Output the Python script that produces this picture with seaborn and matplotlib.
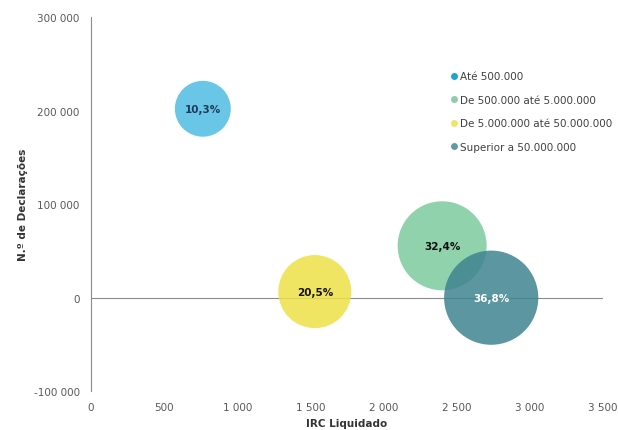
import pandas as pd
import seaborn as sns
import matplotlib.pyplot as plt
from matplotlib.lines import Line2D

# Dados do gráfico
escaloes = ['Até 500.000', 'De 500.000 até 5.000.000',
            'De 5.000.000 até 50.000.000', 'Superior a 50.000.000']
irc_liquidado = [765, 2400, 1530, 2735]
n_declaracoes = [202000, 55500, 6500, 0]
percentagem = [10.3, 32.4, 20.5, 36.8]
rotulos = ['10,3%', '32,4%', '20,5%', '36,8%']
cores = ['#4FBCE2', '#7CCB9E', '#EEE048', '#3F8490']
cores_legenda = ['#1FA3D1', '#8CCCA8', '#EDE56A', '#5E9AA3']
cores_rotulo = ['#1F3A5A', '#111111', '#111111', '#FFFFFF']

df = pd.DataFrame({'escalao': escaloes, 'irc': irc_liquidado,
                   'decl': n_declaracoes, 'pct': percentagem})

sns.set_style('white')
plt.rcParams['font.family'] = ['DejaVu Sans']

fig = plt.figure(figsize=(6.18, 4.31), dpi=100)
ax = fig.add_axes([0.147, 0.09, 0.829, 0.868])

sns.scatterplot(data=df, x='irc', y='decl', hue='escalao', palette=cores,
                size='pct', sizes=(1620, 4600), alpha=0.85, linewidth=0,
                legend=False, ax=ax)

for x, y, t, c in zip(irc_liquidado, n_declaracoes, rotulos, cores_rotulo):
    ax.text(x, y, t, ha='center', va='center', fontsize=7.5,
            fontweight='bold', color=c)

ax.set_xlim(0, 3500)
ax.set_ylim(-100000, 300000)
ax.set_xticks(range(0, 3501, 500))
ax.set_yticks(range(-100000, 300001, 100000))
ax.set_xticklabels([f'{v:,}'.replace(',', ' ') for v in range(0, 3501, 500)])
ax.set_yticklabels([f'{v:,}'.replace(',', ' ') for v in range(-100000, 300001, 100000)])
ax.tick_params(labelsize=7.5, colors='#595959', length=0, pad=8)

for s in ['top', 'right', 'bottom']:
    ax.spines[s].set_visible(False)
ax.spines['left'].set_color('#8C8C8C')
ax.spines['left'].set_linewidth(0.8)
ax.axhline(0, color='#8C8C8C', lw=0.8, zorder=0)

ax.set_xlabel('IRC Liquidado', fontsize=7.5, fontweight='bold', color='#333333')
ax.set_ylabel('N.º de Declarações', fontsize=7.5, fontweight='bold', color='#333333')

handles = [Line2D([0], [0], marker='o', ls='', markersize=5,
                  markerfacecolor=c, markeredgewidth=0) for c in cores_legenda]
ax.legend(handles, escaloes, loc='upper left', bbox_to_anchor=(0.68, 0.88),
          frameon=False, fontsize=7.5, labelspacing=1.3, handletextpad=0.1,
          handlelength=1.0, labelcolor='#404040')

plt.savefig('out.png', dpi=100)
